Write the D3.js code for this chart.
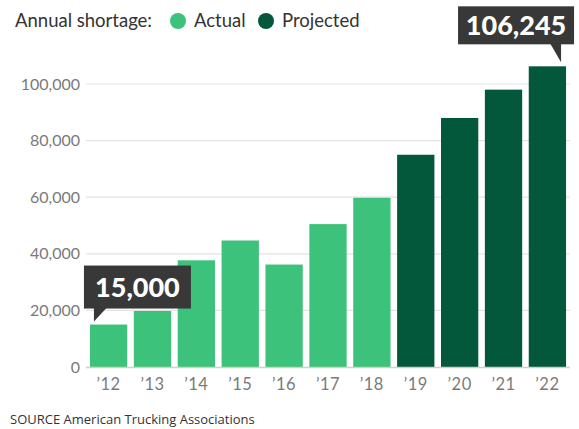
<!DOCTYPE html>
<html><head><meta charset="utf-8">
<script src="https://cdn.jsdelivr.net/npm/d3@7"></script>
<style>
html,body{margin:0;padding:0;background:#fff;}
svg{display:block;font-family:Lato,"Open Sans",sans-serif;}
</style></head>
<body>
<svg id="c" width="579" height="429"></svg>
<script>
const years = ["’12","’13","’14","’15","’16","’17","’18","’19","’20","’21","’22"];
const values = [15000,19800,37700,44700,36200,50500,59800,75000,88000,98000,106245];
const kinds = ["Actual","Actual","Actual","Actual","Actual","Actual","Actual","Projected","Projected","Projected","Projected"];
const yTicks = [0,20000,40000,60000,80000,100000];
const legendLabels = ["Actual","Projected"];
const colors = {Actual:"#3cc27b", Projected:"#03573a"};
const callouts = [{i:0, label:"15,000"},{i:10, label:"106,245"}];

const svg = d3.select("#c");
const x = d3.scaleBand().domain(years).range([86,570]).paddingInner(0.15).paddingOuter(0.09);
const y = d3.scaleLinear().domain([0,100000]).range([367,84]);

// gridlines
svg.append("g").selectAll("line").data(yTicks.filter(d=>d>0)).join("line")
  .attr("x1",86).attr("x2",570).attr("y1",d=>y(d)).attr("y2",d=>y(d))
  .attr("stroke","#e3e3e3").attr("stroke-width",1.2);
// y labels
svg.append("g").selectAll("text").data(yTicks).join("text")
  .attr("x",80).attr("y",d=>y(d)+5.5).attr("text-anchor","end")
  .attr("font-size",16).attr("fill","#7a7a7a")
  .text(d=>d3.format(",")(d));

// bars
svg.append("g").selectAll("rect").data(values).join("rect")
  .attr("x",(d,i)=>x(years[i])).attr("width",x.bandwidth())
  .attr("y",d=>y(d)).attr("height",d=>y(0)-y(d))
  .attr("fill",(d,i)=>colors[kinds[i]]);

// baseline
svg.append("line").attr("x1",86).attr("x2",570).attr("y1",y(0)+0.5).attr("y2",y(0)+0.5)
  .attr("stroke","#cfcfcf").attr("stroke-width",1.5);

// x labels
svg.append("g").selectAll("text").data(years).join("text")
  .attr("x",d=>x(d)+x.bandwidth()/2).attr("y",390).attr("text-anchor","middle")
  .attr("font-size",16.5).attr("fill","#7a7a7a").attr("letter-spacing",0.5).text(d=>d);

// legend
svg.append("text").attr("x",15).attr("y",27).attr("font-size",18.5).attr("fill","#333").text("Annual shortage:");
const lg = [{c:178,t:194},{c:266,t:282}];
legendLabels.forEach((l,k)=>{
  svg.append("circle").attr("cx",lg[k].c).attr("cy",21).attr("r",8).attr("fill",colors[l]);
  svg.append("text").attr("x",lg[k].t).attr("y",27).attr("font-size",18.5).attr("fill","#333").text(l);
});

// callouts
callouts.forEach(co=>{
  const bx = x(years[co.i]), v = values[co.i];
  const g = svg.append("g");
  if (co.i===0){
    const tipX = bx+4, tipY = y(v)-3;
    const bottom = tipY-13, left = tipX-10, w=107, h=43;
    g.append("rect").attr("x",left).attr("y",bottom-h).attr("width",w).attr("height",h).attr("fill","#383838");
    g.append("path").attr("d",`M${tipX},${bottom-1}L${tipX+13},${bottom-1}L${tipX},${tipY}Z`).attr("fill","#383838");
    g.append("text").attr("x",left+w/2).attr("y",bottom-h/2+9.5).attr("text-anchor","middle")
      .attr("font-size",27).attr("font-weight",900).attr("fill","#fff").text(co.label);
  } else {
    const tipX = bx+x.bandwidth()-5, tipY = y(v)-4;
    const bottom = tipY-18, right = tipX+13, w=116, h=38;
    g.append("rect").attr("x",right-w).attr("y",bottom-h).attr("width",w).attr("height",h).attr("fill","#383838");
    g.append("path").attr("d",`M${tipX},${bottom-1}L${tipX-11},${bottom-1}L${tipX},${tipY}Z`).attr("fill","#383838");
    g.append("text").attr("x",right-w/2).attr("y",bottom-h/2+9.5).attr("text-anchor","middle")
      .attr("font-size",27).attr("font-weight",900).attr("fill","#fff").text(co.label);
  }
});

// source
svg.append("text").attr("x",10).attr("y",424).attr("font-size",13).attr("fill","#333")
  .style("font-family","'Open Sans',sans-serif").text("SOURCE American Trucking Associations");
</script>
</body></html>
